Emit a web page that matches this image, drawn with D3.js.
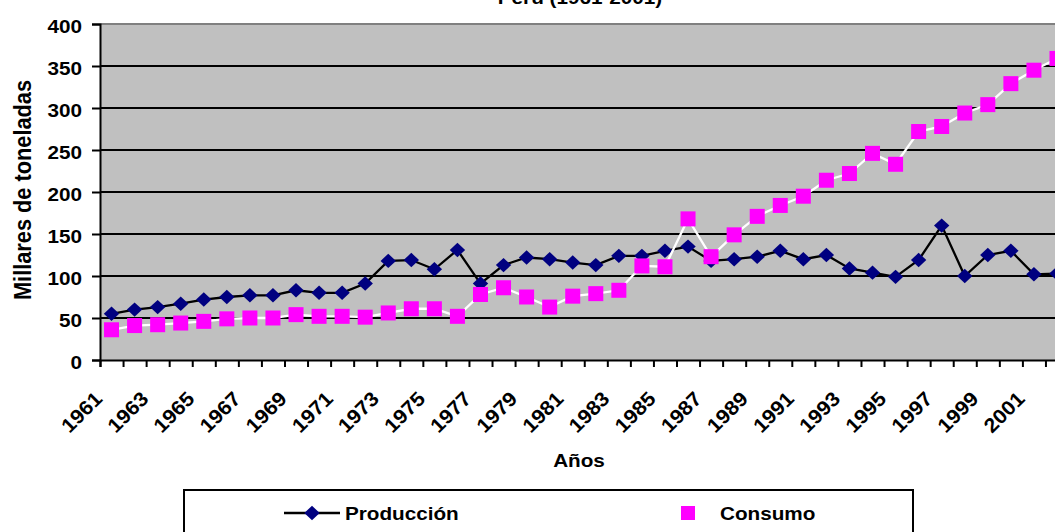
<!DOCTYPE html>
<html>
<head>
<meta charset="utf-8">
<script src="https://cdn.jsdelivr.net/npm/d3@7"></script>
<style>
	body { margin: 0; background: #fff; }
	svg { display: block; }
	text { font-family: "Liberation Sans", Arial, sans-serif; font-weight: bold; fill: #000; }
</style>
</head>
<body>
<svg id="chart" width="1055" height="532"></svg>
<script>
(function (d3) {
	"use strict";

	/***** Data *****/
	var years = [1961, 1962, 1963, 1964, 1965, 1966, 1967, 1968, 1969, 1970,
		1971, 1972, 1973, 1974, 1975, 1976, 1977, 1978, 1979, 1980,
		1981, 1982, 1983, 1984, 1985, 1986, 1987, 1988, 1989, 1990,
		1991, 1992, 1993, 1994, 1995, 1996, 1997, 1998, 1999, 2000,
		2001, 2002];

	var produccion = [55, 60, 63, 67, 72, 75, 77, 77, 83, 80,
		80, 91, 118, 119, 108, 131, 91, 113, 122, 120,
		116, 113, 124, 124, 130, 135, 118, 120, 123, 130,
		120, 125, 109, 104, 99, 119, 160, 100, 125, 130,
		102, 103];

	var consumo = [36, 41, 42, 44, 46, 49, 50, 50, 54, 52,
		52, 51, 56, 61, 61, 52, 78, 86, 75, 63,
		76, 79, 83, 112, 111, 168, 123, 149, 171, 184,
		195, 214, 222, 246, 233, 272, 278, 294, 304, 329,
		345, 359];

	var yTicks = [0, 50, 100, 150, 200, 250, 300, 350, 400];
	var xLabelYears = [1961, 1963, 1965, 1967, 1969, 1971, 1973, 1975, 1977, 1979,
		1981, 1983, 1985, 1987, 1989, 1991, 1993, 1995, 1997, 1999, 2001];

	/***** Layout *****/
	const plotLeft = 100;
	const plotTop = 24;
	const plotBottom = 360;
	const bandW = 23.06;
	const plotRight = plotLeft + bandW * years.length;
	const STRETCH = 1.15;   // the original picture is a bit wider than tall

	var svg = d3.select("#chart");

	// Scales
	var x = d3.scaleBand().domain(years).range([plotLeft, plotRight]).padding(0);
	var xEdge = d3.scaleLinear().domain([0, years.length]).range([plotLeft, plotRight]);
	var y = d3.scaleLinear().domain([0, 400]).range([plotBottom, plotTop]);

	function cx(year) { return x(year) + x.bandwidth() / 2; }

	// text drawn with horizontal stretch
	function sText(g, px, py, rot, str, size, anchor, k) {
		var sx = (k === undefined) ? STRETCH : k;
		return g.append("text")
			.attr("transform", "translate(" + px + "," + py + ") scale(" + sx + ",1)" + (rot ? " rotate(" + rot + ")" : ""))
			.attr("text-anchor", anchor || "start")
			.style("font-size", size + "px")
			.text(str);
	}

	/***** Title (mostly cut off at the top) *****/
	sText(svg, 580, 3.5, 0, "Perú (1961-2001)", 18, "middle");

	/***** Plot area *****/
	svg.append("rect")
		.attr("x", plotLeft).attr("y", plotTop)
		.attr("width", plotRight - plotLeft).attr("height", plotBottom - plotTop)
		.attr("fill", "#c0c0c0");

	// Gridlines
	svg.append("g").selectAll("line")
		.data(yTicks.filter(function (t) { return t > 0; }))
		.join("line")
		.attr("x1", plotLeft).attr("x2", plotRight)
		.attr("y1", function (d) { return y(d); }).attr("y2", function (d) { return y(d); })
		.attr("stroke", function (d) { return d === 400 ? "#808080" : "#000"; })
		.attr("stroke-width", 2);

	/***** Y axis *****/
	var yAxis = d3.axisLeft(y).tickValues(yTicks).tickSize(8).tickPadding(7.6);
	var yg = svg.append("g").attr("transform", "translate(" + plotLeft + ",0)").call(yAxis);
	yg.attr("font-family", null);
	yg.select(".domain").attr("stroke", "#000").attr("stroke-width", 2);
	yg.selectAll(".tick line").attr("stroke", "#000").attr("stroke-width", 2);
	yg.selectAll(".tick text")
		.style("font-size", "18px")
		.attr("dy", "0.46em")
		.attr("transform", "scale(" + STRETCH + ",1)");

	/***** X axis *****/
	var xAxis = d3.axisBottom(xEdge).tickValues(d3.range(0, years.length + 1)).tickSize(7).tickFormat("");
	var xg = svg.append("g").attr("transform", "translate(0," + plotBottom + ")").call(xAxis);
	xg.select(".domain").attr("stroke", "#000").attr("stroke-width", 2);
	xg.selectAll(".tick line").attr("stroke", "#000").attr("stroke-width", 2);

	xLabelYears.forEach(function (yr) {
		sText(svg, cx(yr) - 8, 400, -45, String(yr), 20, "end", 1)
			.attr("textLength", 48).attr("lengthAdjust", "spacingAndGlyphs");
	});

	/***** Axis titles *****/
	sText(svg, 579, 467, 0, "Años", 18, "middle");
	sText(svg, 31, 190, -90, "Millares de toneladas", 21, "middle")
		.attr("textLength", 220).attr("lengthAdjust", "spacingAndGlyphs");

	/***** Series *****/
	var line = d3.line()
		.x(function (d, i) { return cx(years[i]); })
		.y(function (d) { return y(d); });

	var diamond = "M0,-7.2L7.7,0L0,7.2L-7.7,0Z";

	// Producción
	svg.append("path").datum(produccion)
		.attr("d", line).attr("fill", "none")
		.attr("stroke", "#000").attr("stroke-width", 2.3);
	svg.append("g").selectAll("path")
		.data(produccion).join("path")
		.attr("d", diamond)
		.attr("transform", function (d, i) { return "translate(" + cx(years[i]) + "," + y(d) + ")"; })
		.attr("fill", "#000080");

	// Consumo
	svg.append("path").datum(consumo)
		.attr("d", line).attr("fill", "none")
		.attr("stroke", "#fff").attr("stroke-width", 2.3);
	svg.append("g").selectAll("rect")
		.data(consumo).join("rect")
		.attr("x", function (d, i) { return cx(years[i]) - 7.5; })
		.attr("y", function (d) { return y(d) - 7.5; })
		.attr("width", 15).attr("height", 15)
		.attr("fill", "#ff00ff");

	/***** Legend *****/
	var lg = svg.append("g");
	lg.append("rect")
		.attr("x", 184).attr("y", 490).attr("width", 729).attr("height", 60)
		.attr("fill", "#fff").attr("stroke", "#000").attr("stroke-width", 2);
	lg.append("line")
		.attr("x1", 284).attr("x2", 340).attr("y1", 513).attr("y2", 513)
		.attr("stroke", "#000").attr("stroke-width", 2.3);
	lg.append("path").attr("d", diamond)
		.attr("transform", "translate(312,513)").attr("fill", "#000080");
	sText(lg, 345, 519.5, 0, "Producción", 18, "start");
	lg.append("rect")
		.attr("x", 681).attr("y", 506).attr("width", 14).attr("height", 14)
		.attr("fill", "#ff00ff");
	sText(lg, 720, 519.5, 0, "Consumo", 18, "start");

})(d3);
</script>
</body>
</html>
